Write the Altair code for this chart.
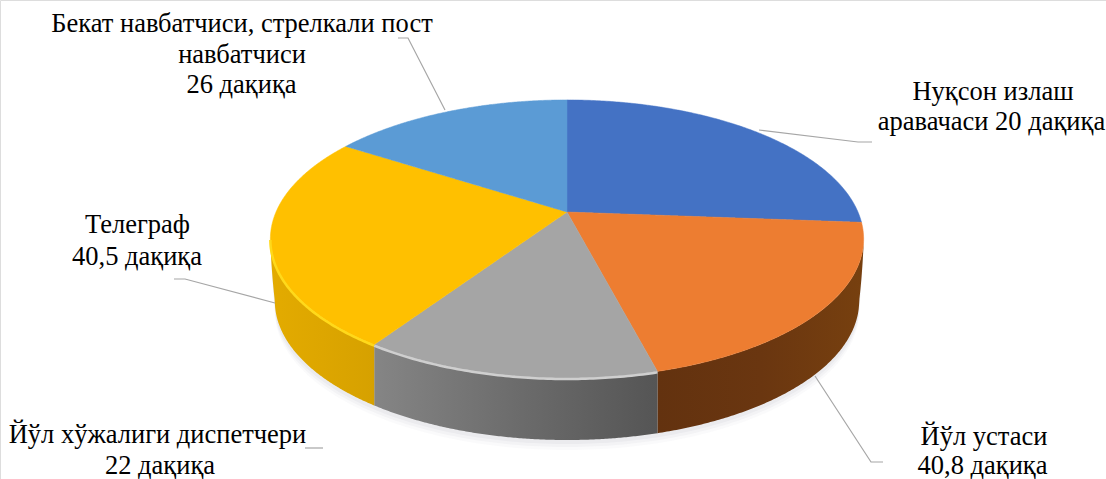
import numpy as np
import pandas as pd
import altair as alt

WIDTH, HEIGHT = 1106, 479

# Slices clockwise from twelve o'clock, in minutes
slice_minutes = [42.9, 32.3, 22, 40.5, 26]
top_colors = ["#4472c4", "#ed7d31", "#a5a5a5", "#ffc000", "#5b9bd5"]
wall_stops = [None,
              ["#63320f", "#6a3610", "#77400f"],
              ["#858585", "#6c6c6c", "#555555"],
              ["#e3ab00", "#dda600", "#d6a100"],
              None]
rim_colors = [None, None, "#cfcfcf", "#ffd91a", None]

# Perspective view of the disc
CX, CY, RX, DEPTH_Y, PERSP, WALL = 567.0, 212.0, 291.0, 133.8, 0.194, 62.0
FOOT_SCALE = 0.985


def project(theta, radius=1.0):
    near = -np.cos(theta)
    scale = 1.0 / (1.0 - PERSP * near)
    return CX + radius * RX * np.sin(theta) * scale, CY + DEPTH_Y * near * scale


def sector_frame(t0, t1):
    """Upper and lower outline of a convex wedge, per x column."""
    ts = np.linspace(t0, t1, 90)
    rx, ry = project(ts)
    px = np.r_[CX, rx, CX]
    py = np.r_[CY, ry, CY]
    grid = np.unique(np.r_[px, np.linspace(px.min(), px.max(), 120)])
    rows = []
    for g in grid:
        hits = []
        for i in range(len(px) - 1):
            a, b = px[i], px[i + 1]
            if min(a, b) <= g <= max(a, b):
                if a == b:
                    hits += [py[i], py[i + 1]]
                else:
                    hits.append(py[i] + (g - a) / (b - a) * (py[i + 1] - py[i]))
        rows.append({"x": float(g), "y": float(min(hits)), "y2": float(max(hits))})
    return pd.DataFrame(rows)


# The rim's horizontal extremes bound the visible side wall
VIS0 = np.pi - np.arccos(PERSP)
VIS1 = np.pi + np.arccos(PERSP)


def wall_frame(t0, t1, drop=WALL):
    """Band between the top rim and a slightly narrower foot, rounded at both ends."""
    ts = np.linspace(t0, t1, 160)
    rx, ry = project(ts)
    foot_t = np.linspace(VIS1, VIS0, 400)
    fx, fy = project(foot_t, FOOT_SCALE)
    low = np.interp(rx, fx, fy + drop)
    top_min, top_max = CX - (CX - fx[0]) / FOOT_SCALE, CX + (fx[-1] - CX) / FOOT_SCALE
    left = rx < fx[0]
    low[left] = ry[left] + (low[left] - ry[left]) * (rx[left] - top_min) / (fx[0] - top_min)
    right = rx > fx[-1]
    low[right] = ry[right] + (low[right] - ry[right]) * (top_max - rx[right]) / (top_max - fx[-1])
    return pd.DataFrame({"x": rx, "y": ry, "y2": low})


x_enc = alt.X("x:Q", axis=None, scale=alt.Scale(domain=[0, WIDTH], nice=False, zero=False))
y_enc = alt.Y("y:Q", axis=None, scale=alt.Scale(domain=[HEIGHT, 0], nice=False, zero=False))

shares = np.array(slice_minutes, dtype=float)
edges = np.r_[0.0, np.cumsum(shares)] / shares.sum() * 2 * np.pi

layers = []

# Soft shadow under the disc
for drop, alpha in [(72, 0.05), (69, 0.07), (66, 0.09)]:
    layers.append(alt.Chart(wall_frame(VIS0, VIS1, drop))
                  .mark_area(color="#9a9ab0", opacity=alpha, orient="vertical")
                  .encode(x=x_enc, y=y_enc, y2="y2:Q"))

# Side walls of the front-facing slices
for i, stops in enumerate(wall_stops):
    lo, hi = max(edges[i], VIS0), min(edges[i + 1], VIS1)
    if stops is None or lo >= hi:
        continue
    grad = alt.Gradient(gradient="linear", x1=0, x2=1, y1=0, y2=0,
                        stops=[alt.GradientStop(color=stops[0], offset=0),
                               alt.GradientStop(color=stops[1], offset=0.5),
                               alt.GradientStop(color=stops[2], offset=1)])
    layers.append(alt.Chart(wall_frame(lo, hi)).mark_area(fill=grad, orient="vertical")
                  .encode(x=x_enc, y=y_enc, y2="y2:Q"))

# Top face wedges
for i, color in enumerate(top_colors):
    layers.append(alt.Chart(sector_frame(edges[i], edges[i + 1]))
                  .mark_area(color=color, orient="vertical", stroke=color, strokeWidth=0.5)
                  .encode(x=x_enc, y=y_enc, y2="y2:Q"))

# Bevel highlight along the front rim
for i, color in enumerate(rim_colors):
    if color is None:
        continue
    ts = np.linspace(edges[i], min(edges[i + 1], VIS1), 80)
    rx, ry = project(ts)
    rim = pd.DataFrame({"x": rx, "y": ry + 1, "o": np.arange(len(ts))})
    layers.append(alt.Chart(rim).mark_line(color=color, strokeWidth=2.5)
                  .encode(x=x_enc, y=y_enc, order="o:Q"))

# Leader lines from the labels to the pie
leaders = [
    [(398, 38), (408, 38), (445, 110)],
    [(759, 130), (858, 142), (872, 142)],
    [(174, 279), (185, 279), (275, 303)],
    [(305, 448), (323, 448)],
    [(815, 376), (871, 462), (883, 462)],
]
leader_rows = [{"g": g, "o": o, "x": p[0], "y": p[1]}
               for g, pts in enumerate(leaders) for o, p in enumerate(pts)]
layers.append(alt.Chart(pd.DataFrame(leader_rows)).mark_line(color="#a6a6a6", strokeWidth=1.2)
              .encode(x=x_enc, y=y_enc, detail="g:N", order="o:Q"))

# Label text, one row per line
label_text = ["Бекат навбатчиси, стрелкали пост", "навбатчиси", "26 дақиқа",
              "Нуқсон излаш", "аравачаси 20 дақиқа",
              "Телеграф", "40,5 дақиқа",
              "Йўл хўжалиги диспетчери", "22 дақиқа",
              "Йўл устаси", "40,8 дақиқа"]
label_x = [242, 242, 241.5, 993, 991.5, 137.5, 137, 157.5, 160, 984, 982.5]
label_y = [32, 63, 93, 100, 130, 233, 265, 443, 474, 445, 474]
layers.append(alt.Chart(pd.DataFrame({"t": label_text, "x": label_x, "y": label_y}))
              .mark_text(font="Liberation Serif", fontSize=26.5, color="#000000",
                         align="center", baseline="alphabetic")
              .encode(x=x_enc, y=y_enc, text="t:N"))

chart = (
    alt.layer(*layers)
    .properties(width=WIDTH, height=HEIGHT, padding=0, autosize=alt.AutoSizeParams(type="none"))
    .configure_view(stroke=None)
    .configure(background="#ffffff")
)

chart.save("out.html", embed_options={"renderer": "svg", "actions": False})
